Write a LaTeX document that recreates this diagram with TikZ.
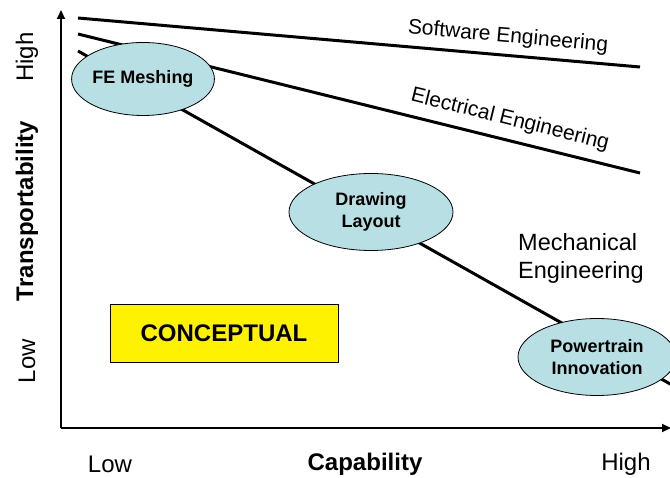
\documentclass[tikz,border=0pt]{standalone}
\usepackage{fontspec}
\setmainfont{Liberation Sans}
\usetikzlibrary{shapes.geometric,arrows.meta}
\definecolor{bubble}{RGB}{184,224,228}
\begin{document}
\begin{tikzpicture}[x=1pt,y=-1pt,
  trend/.style={line width=3pt},
  axis/.style={line width=2.2pt,-{Triangle[length=9pt,width=8pt]}},
  bubblenode/.style={ellipse,draw=black,line width=0.8pt,fill=bubble,align=center,inner sep=0pt,
     font=\fontsize{18}{22}\selectfont\bfseries},
  lab/.style={font=\fontsize{24}{28}\selectfont,inner sep=0pt},
  linelab/.style={font=\fontsize{21}{24}\selectfont,inner sep=0pt}]
\useasboundingbox (0,0) rectangle (670,478);
% axes
\coordinate (O) at (61,428);
\coordinate (Ytop) at (61,10);
\coordinate (Xend) at (671,428);
\draw[axis] (O) -- (Ytop);
\draw[axis] (O) -- (Xend);
% trend lines
\coordinate (s1) at (78,18);
\coordinate (s2) at (640,67);
\coordinate (e1) at (78,34);
\coordinate (e2) at (640,173);
\coordinate (m1) at (78,51);
\coordinate (m2) at (672,385);
\draw[trend] (s1) -- (s2);
\draw[trend] (e1) -- (e2);
\draw[trend] (m1) -- (m2);
% line labels
\node[linelab,rotate=-5] (sw) at (508,37) {Software Engineering};
\node[linelab,rotate=-13.9] (ee) at (510,120) {Electrical Engineering};
\node[lab,anchor=west,align=left,font=\fontsize{23.5}{28}\selectfont] (me) at (518,258) {Mechanical\\Engineering};
% bubbles
\node[bubblenode,minimum width=131pt,minimum height=73pt] (fe) at (143,79) {FE Meshing};
\node[bubblenode,minimum width=164pt,minimum height=77pt] (dl) at (371,212) {Drawing\\Layout};
\node[bubblenode,minimum width=158pt,minimum height=77pt] (pi) at (597,357) {Powertrain\\Innovation};
% conceptual box
\node[draw=black,line width=0.8pt,fill=yellow,minimum width=228pt,minimum height=58pt,
  font=\fontsize{24}{28}\selectfont\bfseries] (cb) at (224,333) {CONCEPTUAL};
% axis labels
\node[lab] (xlow) at (110,464) {Low};
\node[lab,font=\fontsize{24}{28}\selectfont\bfseries] (xcap) at (365,464) {Capability};
\node[lab] (xhigh) at (626,464) {High};
\node[lab,rotate=90] (yhigh) at (27,57) {High};
\node[lab,rotate=90,font=\fontsize{24}{28}\selectfont\bfseries] (ytr) at (27,211) {Transportability};
\node[lab,rotate=90] (ylow) at (27,361) {Low};
\end{tikzpicture}
\end{document}
